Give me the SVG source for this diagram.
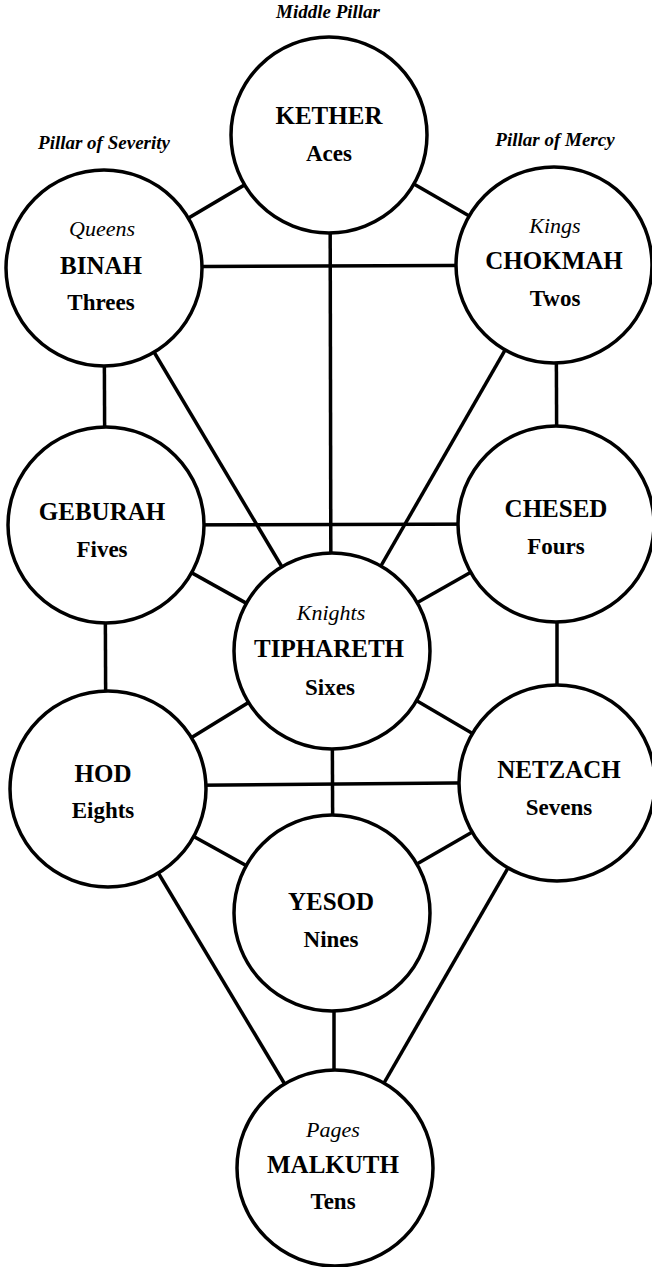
<svg xmlns="http://www.w3.org/2000/svg" width="652" height="1267" viewBox="0 0 652 1267">
<style>
.n{fill:#fff;stroke:#000;stroke-width:3.5}
.c line{stroke:#000;stroke-width:3.5}
text{font-family:'Liberation Serif','Times New Roman','DejaVu Serif',serif;text-anchor:middle;fill:#000}
.nm{font-weight:bold;font-size:25px}
.sb{font-weight:bold;font-size:23px}
.it{font-style:italic;font-size:22px}
.pl{font-style:italic;font-weight:bold;font-size:19px}
</style>
<rect width="652" height="1267" fill="#fff"/>
<g id="labels">
<text class="pl" x="328" y="18">Middle Pillar</text>
<text class="pl" x="104" y="149">Pillar of Severity</text>
<text class="pl" x="555" y="146">Pillar of Mercy</text>
</g>
<g class="c" id="connectors">
<line x1="329" y1="135" x2="104" y2="268"/>
<line x1="329" y1="135" x2="554" y2="265"/>
<line x1="330" y1="135" x2="331" y2="651"/>
<line x1="104" y1="267" x2="554" y2="265"/>
<line x1="104" y1="268" x2="105" y2="525"/>
<line x1="104" y1="268" x2="332" y2="651"/>
<line x1="556" y1="265" x2="557" y2="524"/>
<line x1="554" y1="265" x2="332" y2="651"/>
<line x1="106" y1="525" x2="556" y2="524"/>
<line x1="106" y1="525" x2="332" y2="651"/>
<line x1="556" y1="524" x2="332" y2="651"/>
<line x1="105" y1="525" x2="106" y2="789"/>
<line x1="557" y1="524" x2="557" y2="783"/>
<line x1="332" y1="651" x2="108" y2="789"/>
<line x1="332" y1="651" x2="557" y2="783"/>
<line x1="108" y1="786" x2="557" y2="782"/>
<line x1="332" y1="651" x2="333" y2="913"/>
<line x1="108" y1="789" x2="332" y2="913"/>
<line x1="557" y1="783" x2="332" y2="913"/>
<line x1="108" y1="789" x2="335" y2="1168"/>
<line x1="557" y1="783" x2="335" y2="1168"/>
<line x1="334" y1="913" x2="334" y2="1168"/>
</g>
<g id="kether"><circle class="n" cx="329" cy="135" r="98"/><text class="nm" x="329" y="124">KETHER</text><text class="sb" x="329" y="161">Aces</text></g>
<g id="binah"><circle class="n" cx="104" cy="268" r="98"/><text class="it" x="102" y="236">Queens</text><text class="nm" x="101" y="274">BINAH</text><text class="sb" x="101" y="310">Threes</text></g>
<g id="chokmah"><circle class="n" cx="554" cy="265" r="98"/><text class="it" x="555" y="233">Kings</text><text class="nm" x="554" y="269">CHOKMAH</text><text class="sb" x="555" y="306">Twos</text></g>
<g id="geburah"><circle class="n" cx="106" cy="525" r="98"/><text class="nm" x="102" y="520">GEBURAH</text><text class="sb" x="102" y="557">Fives</text></g>
<g id="chesed"><circle class="n" cx="556" cy="524" r="98"/><text class="nm" x="556" y="517">CHESED</text><text class="sb" x="556" y="554">Fours</text></g>
<g id="tiphareth"><circle class="n" cx="332" cy="651" r="98"/><text class="it" x="331" y="620">Knights</text><text class="nm" x="329" y="657">TIPHARETH</text><text class="sb" x="330" y="695">Sixes</text></g>
<g id="hod"><circle class="n" cx="108" cy="789" r="98"/><text class="nm" x="103" y="782">HOD</text><text class="sb" x="103" y="818">Eights</text></g>
<g id="netzach"><circle class="n" cx="557" cy="783" r="98"/><text class="nm" x="559" y="778">NETZACH</text><text class="sb" x="559" y="815">Sevens</text></g>
<g id="yesod"><circle class="n" cx="332" cy="913" r="98"/><text class="nm" x="331" y="910">YESOD</text><text class="sb" x="331" y="947">Nines</text></g>
<g id="malkuth"><circle class="n" cx="335" cy="1168" r="98"/><text class="it" x="333" y="1137">Pages</text><text class="nm" x="333" y="1173">MALKUTH</text><text class="sb" x="333" y="1209">Tens</text></g>
</svg>
